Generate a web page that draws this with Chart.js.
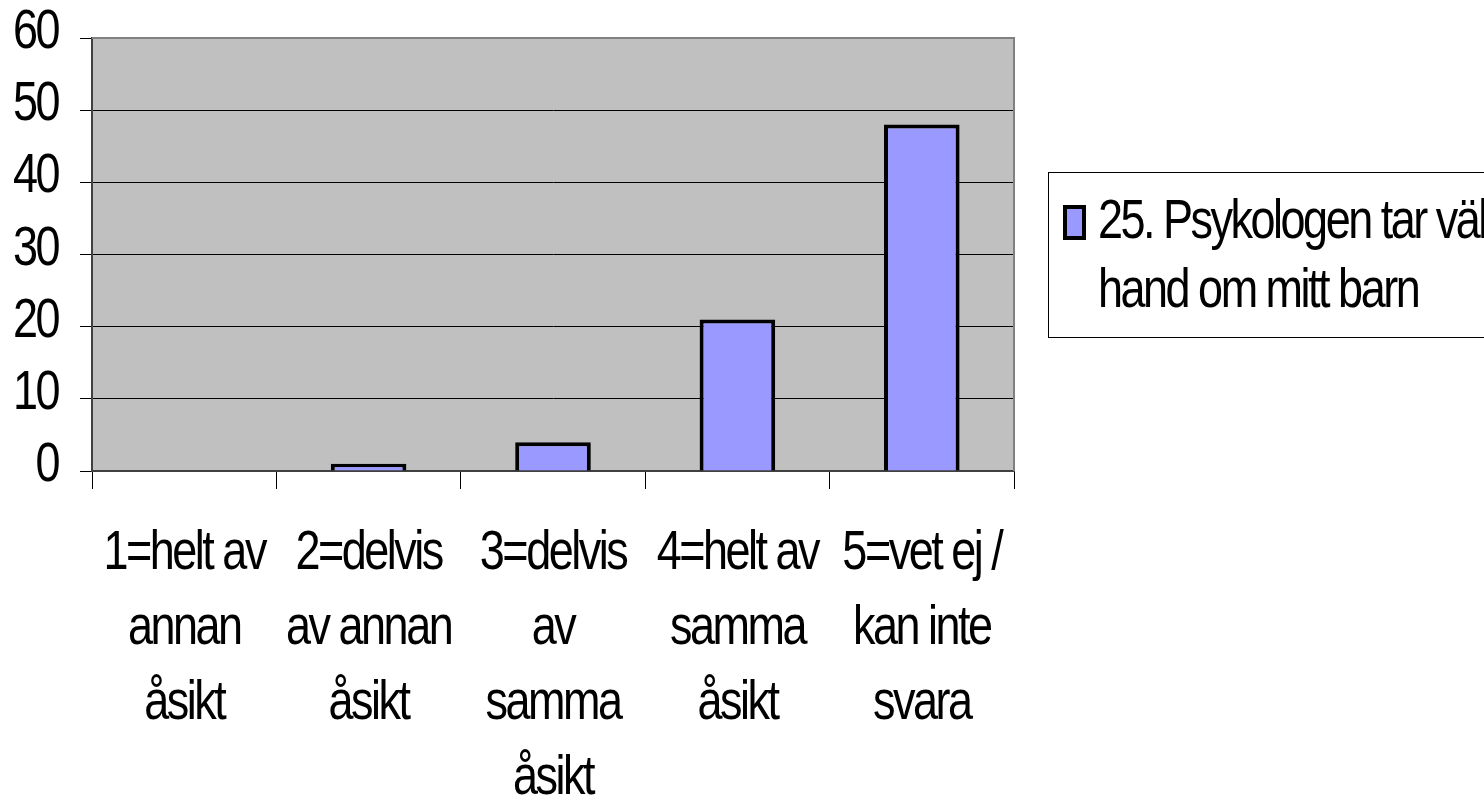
<!DOCTYPE html>
<html lang="sv">
<head>
<meta charset="utf-8">
<title>25. Psykologen tar väl hand om mitt barn</title>
<script src="https://cdn.jsdelivr.net/npm/chart.js@4/dist/chart.umd.min.js"></script>
<style>
    html, body { margin: 0; padding: 0; background: #fff; overflow: hidden; }
    #wrap { width: 1484px; height: 811px; }
</style>
</head>
<body>
<div id="wrap"><canvas id="chart" width="1484" height="811"></canvas></div>
<script>
// 데이터
const categories = [
    ['1=helt av', 'annan', 'åsikt'],
    ['2=delvis', 'av annan', 'åsikt'],
    ['3=delvis', 'av', 'samma', 'åsikt'],
    ['4=helt av', 'samma', 'åsikt'],
    ['5=vet ej /', 'kan inte', 'svara']
];
const seriesValues = [0, 1, 4, 21, 48];
const legendLines = ['25. Psykologen tar väl', 'hand om mitt barn'];
const yTicks = [0, 10, 20, 30, 40, 50, 60];

const FONT = '"Liberation Sans", Arial, sans-serif';
const FONT_SIZE = 45;
const STRETCH = 1.22;         // 원본 글자는 세로로 길쭉함
const SPACING = '-2.5px';
const BAR_COLOR = '#9999FF';

// 원본 글꼴이 좁은 글꼴이라 자간을 줄여서 맞춤
const narrowText = {
    id: 'narrowText',
    beforeLayout(chart) { chart.ctx.letterSpacing = SPACING; },
    beforeDraw(chart) { chart.ctx.letterSpacing = SPACING; }
};

// 축 라벨을 세로로 늘려서 그림 (renderText 의 rotate 뒤에 scale 추가)
const tallText = {
    id: 'tallText',
    afterLayout(chart) {
        Object.values(chart.scales).forEach(scale => {
            if (scale._tallWrapped) return;
            const orig = scale.drawLabels.bind(scale);
            scale.drawLabels = function (area) {
                const ctx = this.ctx;
                const rot = ctx.rotate;
                ctx.rotate = function (a) { rot.call(ctx, a); ctx.scale(1, STRETCH); };
                try { orig(area); } finally { ctx.rotate = rot; }
            };
            scale._tallWrapped = true;
        });
    }
};

// 플롯 배경 + 테두리
const plotFrame = {
    id: 'plotFrame',
    beforeDraw(chart) {
        const { ctx, chartArea: a } = chart;
        ctx.save();
        ctx.fillStyle = '#C0C0C0';
        ctx.fillRect(a.left, a.top, a.right - a.left, a.bottom - a.top);
        ctx.restore();
    },
    afterDatasetsDraw(chart) {
        const { ctx, chartArea: a } = chart;
        ctx.save();
        ctx.strokeStyle = '#808080';
        ctx.lineWidth = 2;
        ctx.beginPath();
        ctx.moveTo(a.left, a.top);
        ctx.lineTo(a.right, a.top);
        ctx.lineTo(a.right, a.bottom);
        ctx.stroke();
        ctx.restore();
    }
};

// 범례 (두 줄 텍스트라서 직접 그림)
const boxLegend = {
    id: 'boxLegend',
    afterDraw(chart) {
        const ctx = chart.ctx;
        ctx.save();
        ctx.strokeStyle = '#000';
        ctx.lineWidth = 1;
        ctx.strokeRect(1048.5, 172.5, 500, 165);
        ctx.fillStyle = chart.data.datasets[0].backgroundColor;
        ctx.fillRect(1065, 207, 19, 31);
        ctx.lineWidth = 4;
        ctx.strokeRect(1065, 207, 19, 31);
        ctx.fillStyle = '#000';
        ctx.font = FONT_SIZE + 'px ' + FONT;
        ctx.letterSpacing = SPACING;
        ctx.textBaseline = 'alphabetic';
        legendLines.forEach((line, i) => {
            ctx.save();
            ctx.translate(1098, 238 + i * 69);
            ctx.scale(1, STRETCH);
            ctx.fillText(line, 0, 0);
            ctx.restore();
        });
        ctx.restore();
    }
};

new Chart(document.getElementById('chart'), {
    type: 'bar',
    data: {
        labels: categories,
        datasets: [{
            label: legendLines.join(' '),
            data: seriesValues,
            backgroundColor: BAR_COLOR,
            borderColor: '#000',
            borderWidth: c => (c.raw === 0 ? 0 : 4),
            barPercentage: 0.41,
            categoryPercentage: 1
        }]
    },
    options: {
        responsive: false,
        animation: false,
        devicePixelRatio: 1,
        layout: { padding: { top: 38, right: 470, left: 0, bottom: 0 } },
        plugins: {
            legend: { display: false },
            tooltip: { enabled: false }
        },
        scales: {
            x: {
                afterFit(scale) {
                    scale.height = 811 - 471;
                    scale.paddingLeft = 0;
                    scale.paddingRight = 0;
                },
                grid: {
                    offset: true,
                    drawOnChartArea: false,
                    tickLength: 18,
                    color: '#000',
                    lineWidth: 1
                },
                border: { color: '#404040', width: 2 },
                ticks: {
                    color: '#000',
                    padding: 27,
                    maxRotation: 0,
                    autoSkip: false,
                    font: { family: FONT, size: FONT_SIZE, lineHeight: (75 / STRETCH) / FONT_SIZE }
                }
            },
            y: {
                min: yTicks[0],
                max: yTicks[yTicks.length - 1],
                afterFit(scale) {
                    scale.width = 92;
                    scale.paddingTop = 0;
                    scale.paddingBottom = 0;
                },
                afterBuildTicks(scale) { scale.ticks = yTicks.map(v => ({ value: v })); },
                grid: {
                    color: '#000',
                    lineWidth: 1,
                    tickLength: 12
                },
                border: { color: '#404040', width: 2 },
                ticks: {
                    color: '#000',
                    padding: 22,
                    labelOffset: -5,
                    font: { family: FONT, size: FONT_SIZE }
                }
            }
        }
    },
    plugins: [narrowText, tallText, plotFrame, boxLegend]
});
</script>
</body>
</html>
